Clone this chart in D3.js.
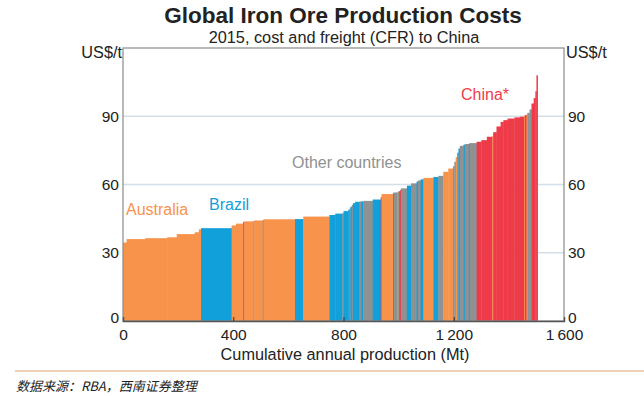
<!DOCTYPE html>
<html>
<head>
<meta charset="utf-8">
<script src="https://cdn.jsdelivr.net/npm/d3@7"></script>
<style>
  body { margin: 0; background: #fff; }
  text { font-family: "Liberation Sans", Arial, sans-serif; }
</style>
</head>
<body>
<svg id="chart" width="644" height="396"></svg>
<script>
// cost curve segments (left to right)
// A = Australia, B = Brazil, O = other countries, C = China
const production = [13, 67, 80, 35, 65, 15, 8, 111, 16, 26, 4, 33, 3, 31, 3, 114, 30, 95, 21, 26,
  4, 17, 5, 3, 5, 4, 8, 16, 6, 8, 34, 29, 3, 42, 3, 13, 4, 5, 3, 22,
  15, 20, 5, 10, 10, 36, 18, 18, 18, 17, 5, 5, 5, 5, 5, 13, 5, 15, 3, 25,
  17, 20, 20, 3, 12, 15, 10, 15, 25, 20, 15, 3, 6, 3, 8, 7, 8, 6, 4, 4];
const cost = [34.5, 36.0, 36.4, 36.8, 38.2, 39.0, 40.3, 40.8, 42.0, 42.8, 43.6, 43.8, 44.0, 44.2, 44.4, 44.7, 44.8, 45.9, 46.6, 47.2,
  47.4, 48.3, 48.9, 49.5, 50.2, 51.0, 51.8, 52.4, 52.5, 52.6, 52.8, 53.4, 54.5, 55.8, 56.3, 56.5, 56.8, 57.1, 57.5, 58.3,
  59.5, 60.5, 61.3, 61.8, 62.3, 62.9, 63.3, 63.8, 65.6, 67.0, 68.0, 70.0, 72.0, 74.0, 75.8, 77.0, 77.5, 77.8, 78.0, 78.2,
  78.8, 79.5, 81.0, 81.5, 83.0, 85.5, 87.5, 88.3, 89.0, 89.5, 89.8, 90.2, 90.5, 90.8, 91.5, 93.0, 95.6, 98.0, 101.0, 108.0];
const region = "AAAAAAABAAC" + "AOAOABABBO" + "BBOBOBBOBOBCACOABCOBOBOBABOAAOOAOBOBOBO" + "CCCACCCCCCCACAOOCCCC";

const regionNames = { A: "Australia", B: "Brazil", O: "Other countries", C: "China*" };
const regionColors = { A: "#f7934b", B: "#12a0da", O: "#8f9192", C: "#ee3b49" };

const xTicks = [0, 400, 800, 1200, 1600];
const xTickLabels = ["0", "400", "800", "1\u2009200", "1\u2009600"];
const yTicks = [0, 30, 60, 90];

const svg = d3.select("#chart");
const plotLeft = 123, plotRight = 564, plotTop = 48, plotBottom = 321;

let x = d3.scaleLinear().domain([0, 1600]).range([plotLeft, plotRight]);
let y = d3.scaleLinear().domain([0, 120]).range([plotBottom, plotTop]);

// titles
svg.append("text").attr("x", 343).attr("y", 22.5).attr("text-anchor", "middle")
  .attr("font-size", 22.5).attr("font-weight", "bold").attr("fill", "#222")
  .text("Global Iron Ore Production Costs");
svg.append("text").attr("x", 344).attr("y", 43).attr("text-anchor", "middle")
  .attr("font-size", 16.3).attr("fill", "#222")
  .text("2015, cost and freight (CFR) to China");

// gridlines
svg.append("g").selectAll("line").data(yTicks.slice(1)).join("line")
  .attr("x1", plotLeft).attr("x2", plotRight)
  .attr("y1", d => y(d)).attr("y2", d => y(d))
  .attr("stroke", "#d3dfe8").attr("stroke-width", 1.5);

// bars
let ends = Array.from(d3.cumsum(production));
let segs = production.map((w, i) => ({
  x0: ends[i] - w, x1: ends[i], cost: cost[i], r: region[i]
}));

svg.append("g").selectAll("rect").data(segs).join("rect")
  .attr("x", d => x(d.x0))
  .attr("width", d => x(d.x1) - x(d.x0) + 0.4)
  .attr("y", d => y(d.cost))
  .attr("height", d => y(0) - y(d.cost))
  .attr("fill", d => regionColors[d.r]);

// frame
svg.append("rect").attr("x", plotLeft).attr("y", plotTop)
  .attr("width", plotRight - plotLeft).attr("height", plotBottom - plotTop)
  .attr("fill", "none").attr("stroke", "#8a8a8a").attr("stroke-width", 1.2);

// x axis
let xAxis = svg.append("g").attr("transform", `translate(0,${plotBottom})`)
  .call(d3.axisBottom(x).tickValues(xTicks).tickSize(-4).tickPadding(8)
    .tickFormat((d, i) => xTickLabels[i]));
xAxis.select(".domain").attr("stroke", "#555").attr("stroke-width", 1.5);
xAxis.selectAll(".tick line").attr("stroke", "#333")
  .attr("display", d => (d === 0 || d === 1600) ? "none" : null);
xAxis.selectAll("text").attr("font-size", 15.5).attr("fill", "#222")
  .attr("font-family", "Liberation Sans, Arial, sans-serif");

// y axes on both sides
let yLeft = svg.append("g").attr("transform", `translate(${plotLeft},0)`)
  .call(d3.axisLeft(y).tickValues(yTicks).tickSize(0).tickPadding(4));
let yRight = svg.append("g").attr("transform", `translate(${plotRight},0)`)
  .call(d3.axisRight(y).tickValues(yTicks).tickSize(0).tickPadding(4));
[yLeft, yRight].forEach(g => {
  g.select(".domain").remove();
  g.selectAll("text").attr("font-size", 15.5).attr("fill", "#222")
    .attr("font-family", "Liberation Sans, Arial, sans-serif")
    .attr("dy", d => d === 0 ? "0.08em" : "0.32em");
});

// units
svg.append("text").attr("x", plotLeft - 1).attr("y", 58).attr("text-anchor", "end")
  .attr("font-size", 16.3).attr("fill", "#222").text("US$/t");
svg.append("text").attr("x", plotRight + 2).attr("y", 58)
  .attr("font-size", 16.3).attr("fill", "#222").text("US$/t");

// axis title
svg.append("text").attr("x", 345).attr("y", 360).attr("text-anchor", "middle")
  .attr("font-size", 16.3).attr("fill", "#222")
  .text("Cumulative annual production (Mt)");

// region labels
const labelPos = [["A", 126, 215], ["B", 209, 210], ["O", 292, 168], ["C", 461, 100]];
labelPos.forEach(([k, lx, ly]) => {
  svg.append("text").attr("x", lx).attr("y", ly)
    .attr("font-size", 16).attr("fill", regionColors[k])
    .text(regionNames[k]);
});

// footer
svg.append("line").attr("x1", 15).attr("x2", 644).attr("y1", 371).attr("y2", 371)
  .attr("stroke", "#d9a36d").attr("stroke-width", 1);
svg.append("text").attr("x", 16).attr("y", 391)
  .attr("font-size", 13).attr("font-style", "italic").attr("fill", "#222")
  .style("font-family", "'Noto Sans CJK SC', sans-serif")
  .text("数据来源：RBA，西南证券整理");
</script>
</body>
</html>
